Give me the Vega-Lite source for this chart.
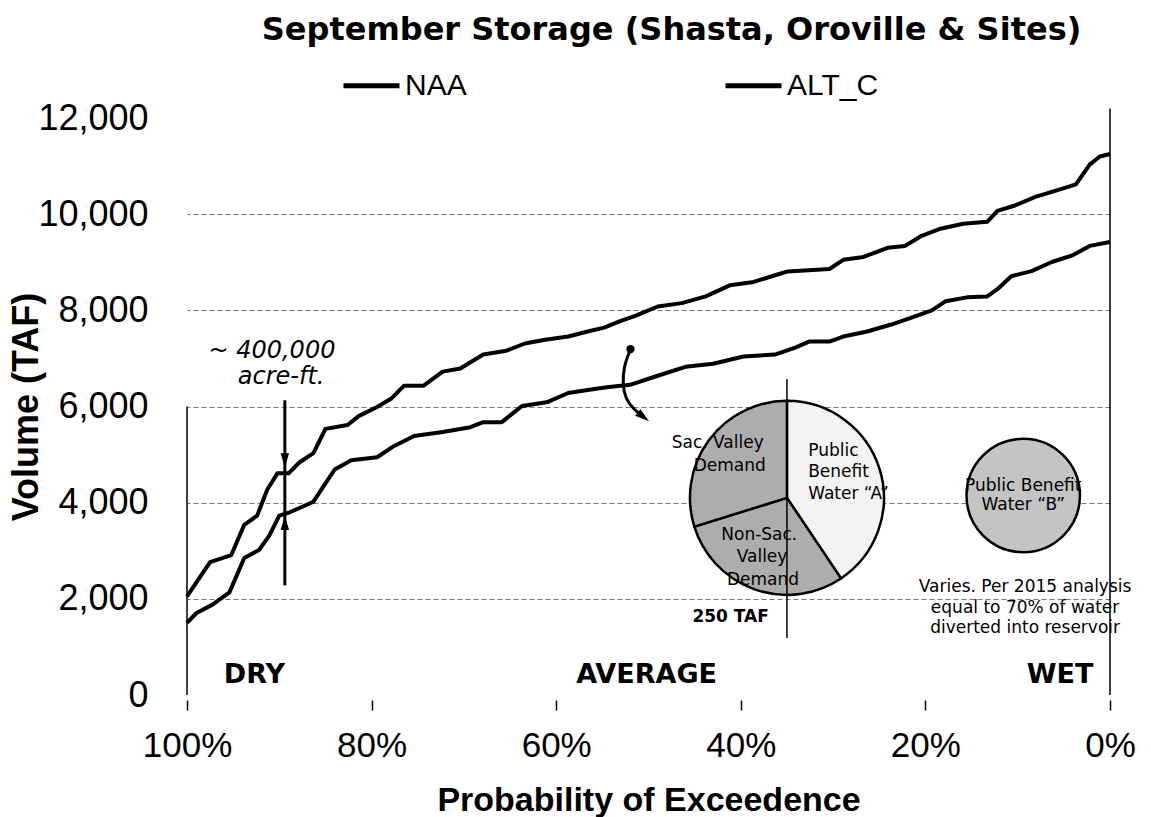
{
  "$schema": "https://vega.github.io/schema/vega-lite/v6.json",
  "width": 923,
  "height": 577,
  "autosize": "none",
  "padding": {"left": 187, "top": 118, "right": 41, "bottom": 122},
  "background": "white",
  "config": {"view": {"stroke": null}, "font": "Liberation Sans"},
  "title": {
    "text": "September Storage (Shasta, Oroville & Sites)",
    "font": "DejaVu Sans",
    "fontSize": 32,
    "fontWeight": "bold",
    "color": "black",
    "anchor": "middle",
    "dx": 23,
    "offset": -17,
    "baseline": "alphabetic"
  },
  "datasets": {
    "lines": [
      {"series": "ALT_C", "p": 100, "v": 2050}, {"series": "ALT_C", "p": 97.5, "v": 2765}, {"series": "ALT_C", "p": 95.2, "v": 2910},
      {"series": "ALT_C", "p": 93.8, "v": 3540}, {"series": "ALT_C", "p": 92.4, "v": 3730}, {"series": "ALT_C", "p": 91.3, "v": 4275},
      {"series": "ALT_C", "p": 90.2, "v": 4610}, {"series": "ALT_C", "p": 89.0, "v": 4610}, {"series": "ALT_C", "p": 87.8, "v": 4840},
      {"series": "ALT_C", "p": 86.3, "v": 5030}, {"series": "ALT_C", "p": 85.0, "v": 5535}, {"series": "ALT_C", "p": 82.6, "v": 5615},
      {"series": "ALT_C", "p": 81.4, "v": 5800}, {"series": "ALT_C", "p": 79.4, "v": 5990}, {"series": "ALT_C", "p": 77.9, "v": 6160},
      {"series": "ALT_C", "p": 76.5, "v": 6430}, {"series": "ALT_C", "p": 74.4, "v": 6430}, {"series": "ALT_C", "p": 72.3, "v": 6725},
      {"series": "ALT_C", "p": 70.4, "v": 6790}, {"series": "ALT_C", "p": 67.9, "v": 7080}, {"series": "ALT_C", "p": 65.4, "v": 7160},
      {"series": "ALT_C", "p": 63.4, "v": 7310}, {"series": "ALT_C", "p": 61.2, "v": 7390}, {"series": "ALT_C", "p": 58.7, "v": 7455},
      {"series": "ALT_C", "p": 56.6, "v": 7560}, {"series": "ALT_C", "p": 54.8, "v": 7640}, {"series": "ALT_C", "p": 53.0, "v": 7780},
      {"series": "ALT_C", "p": 51.5, "v": 7880}, {"series": "ALT_C", "p": 49.0, "v": 8080}, {"series": "ALT_C", "p": 46.4, "v": 8150},
      {"series": "ALT_C", "p": 43.8, "v": 8290}, {"series": "ALT_C", "p": 41.2, "v": 8520}, {"series": "ALT_C", "p": 38.6, "v": 8590},
      {"series": "ALT_C", "p": 36.3, "v": 8730}, {"series": "ALT_C", "p": 34.9, "v": 8810}, {"series": "ALT_C", "p": 30.4, "v": 8860},
      {"series": "ALT_C", "p": 28.9, "v": 9050}, {"series": "ALT_C", "p": 26.7, "v": 9110}, {"series": "ALT_C", "p": 24.1, "v": 9300},
      {"series": "ALT_C", "p": 22.2, "v": 9340}, {"series": "ALT_C", "p": 20.4, "v": 9550}, {"series": "ALT_C", "p": 18.5, "v": 9690},
      {"series": "ALT_C", "p": 15.9, "v": 9800}, {"series": "ALT_C", "p": 13.3, "v": 9840}, {"series": "ALT_C", "p": 12.2, "v": 10070},
      {"series": "ALT_C", "p": 10.3, "v": 10180}, {"series": "ALT_C", "p": 8.1, "v": 10360}, {"series": "ALT_C", "p": 5.5, "v": 10510},
      {"series": "ALT_C", "p": 3.7, "v": 10620}, {"series": "ALT_C", "p": 2.2, "v": 11030}, {"series": "ALT_C", "p": 1.1, "v": 11200},
      {"series": "ALT_C", "p": 0, "v": 11250},
      {"series": "NAA", "p": 100, "v": 1500}, {"series": "NAA", "p": 99.0, "v": 1700}, {"series": "NAA", "p": 97.2, "v": 1885},
      {"series": "NAA", "p": 95.4, "v": 2135}, {"series": "NAA", "p": 93.8, "v": 2850}, {"series": "NAA", "p": 92.2, "v": 3015},
      {"series": "NAA", "p": 91.1, "v": 3310}, {"series": "NAA", "p": 90.0, "v": 3730}, {"series": "NAA", "p": 89.0, "v": 3790},
      {"series": "NAA", "p": 87.5, "v": 3915}, {"series": "NAA", "p": 86.3, "v": 4020}, {"series": "NAA", "p": 85.0, "v": 4400},
      {"series": "NAA", "p": 84.0, "v": 4690}, {"series": "NAA", "p": 82.2, "v": 4880}, {"series": "NAA", "p": 79.4, "v": 4945},
      {"series": "NAA", "p": 77.6, "v": 5175}, {"series": "NAA", "p": 75.4, "v": 5385}, {"series": "NAA", "p": 72.3, "v": 5470},
      {"series": "NAA", "p": 69.3, "v": 5570}, {"series": "NAA", "p": 67.9, "v": 5675}, {"series": "NAA", "p": 65.9, "v": 5675},
      {"series": "NAA", "p": 63.7, "v": 6010}, {"series": "NAA", "p": 60.9, "v": 6095}, {"series": "NAA", "p": 58.7, "v": 6280},
      {"series": "NAA", "p": 56.6, "v": 6345}, {"series": "NAA", "p": 54.5, "v": 6400}, {"series": "NAA", "p": 52.0, "v": 6450},
      {"series": "NAA", "p": 49.0, "v": 6640}, {"series": "NAA", "p": 46.0, "v": 6825}, {"series": "NAA", "p": 43.0, "v": 6890},
      {"series": "NAA", "p": 39.7, "v": 7040}, {"series": "NAA", "p": 36.3, "v": 7080}, {"series": "NAA", "p": 34.1, "v": 7225},
      {"series": "NAA", "p": 32.6, "v": 7350}, {"series": "NAA", "p": 30.4, "v": 7350}, {"series": "NAA", "p": 28.9, "v": 7455},
      {"series": "NAA", "p": 26.3, "v": 7560}, {"series": "NAA", "p": 23.7, "v": 7705}, {"series": "NAA", "p": 21.5, "v": 7850},
      {"series": "NAA", "p": 19.3, "v": 8000}, {"series": "NAA", "p": 17.8, "v": 8190}, {"series": "NAA", "p": 15.5, "v": 8270},
      {"series": "NAA", "p": 13.3, "v": 8290}, {"series": "NAA", "p": 12.2, "v": 8440}, {"series": "NAA", "p": 10.7, "v": 8710},
      {"series": "NAA", "p": 8.5, "v": 8815}, {"series": "NAA", "p": 6.3, "v": 9005}, {"series": "NAA", "p": 4.0, "v": 9150},
      {"series": "NAA", "p": 2.2, "v": 9340}, {"series": "NAA", "p": 0, "v": 9420}
    ],
    "thinRules": [
      {"p": 100, "v": 6000, "v2": 0},
      {"p": 0, "v": 12200, "v2": 0}
    ],
    "divider": [{"p": 35, "v": 6570, "v2": 1185}],
    "arrowRule": [{"p": 89.4, "v": 6130, "v2": 2280}],
    "arrowHeads": [
      {"p": 89.4, "v": 4880, "ang": 180},
      {"p": 89.4, "v": 3580, "ang": 0},
      {"p": 50.55, "v": 5785, "ang": 128}
    ],
    "curve": [
      {"i": 1, "p": 51.95, "v": 7194},
      {"i": 2, "p": 52.7, "v": 6825},
      {"i": 3, "p": 52.8, "v": 6457},
      {"i": 4, "p": 52.5, "v": 6161},
      {"i": 5, "p": 51.6, "v": 5941},
      {"i": 6, "p": 50.6, "v": 5790}
    ],
    "dot": [{"p": 51.95, "v": 7194}],
    "pie": [
      {"slice": "Public Benefit Water A", "share": 40.6, "ord": 1, "p": 35, "v": 4100},
      {"slice": "Non-Sac. Valley Demand", "share": 29.6, "ord": 2, "p": 35, "v": 4100},
      {"slice": "Sac. Valley Demand", "share": 29.8, "ord": 3, "p": 35, "v": 4100}
    ],
    "pie2": [{"p": 9.4, "v": 4150}],
    "italicText": [
      {"p": 90.8, "v": 7160, "t": "~ 400,000"},
      {"p": 89.8, "v": 6610, "t": "acre-ft."}
    ],
    "labelCenter": [
      {"p": 42.5, "v": 5235, "t": "Sac. Valley"},
      {"p": 41.2, "v": 4765, "t": "Demand"},
      {"p": 38.0, "v": 3335, "t": "Non-Sac."},
      {"p": 37.7, "v": 2860, "t": "Valley"},
      {"p": 37.6, "v": 2390, "t": "Demand"},
      {"p": 9.4, "v": 4355, "t": "Public Benefit"},
      {"p": 9.4, "v": 3950, "t": "Water “B”"},
      {"p": 9.2, "v": 2245, "t": "Varies. Per 2015 analysis"},
      {"p": 9.2, "v": 1805, "t": "equal to 70% of water"},
      {"p": 9.2, "v": 1395, "t": "diverted into reservoir"}
    ],
    "labelLeft": [
      {"p": 32.7, "v": 5070, "t": "Public"},
      {"p": 32.7, "v": 4630, "t": "Benefit"},
      {"p": 32.7, "v": 4190, "t": "Water “A”"}
    ],
    "boldSmall": [{"p": 41.1, "v": 1630, "t": "250 TAF"}],
    "zones": [
      {"p": 92.7, "v": 420, "t": "DRY"},
      {"p": 50.2, "v": 420, "t": "AVERAGE"},
      {"p": 5.4, "v": 420, "t": "WET"}
    ]
  },
  "encoding": {
    "x": {
      "field": "p",
      "type": "quantitative",
      "scale": {"domain": [0, 100], "reverse": true, "nice": false, "zero": false},
      "axis": {
        "values": [0, 20, 40, 60, 80, 100],
        "labelExpr": "datum.value + '%'",
        "domain": false,
        "grid": false,
        "ticks": true,
        "tickSize": 10,
        "tickWidth": 1.5,
        "tickColor": "black",
        "offset": 5,
        "labelFont": "Liberation Sans",
        "labelFontSize": 35,
        "labelColor": "black",
        "labelPadding": 18,
        "labelFlush": false,
        "title": "Probability of Exceedence",
        "titleFont": "Liberation Sans",
        "titleFontSize": 34,
        "titleFontWeight": "bold",
        "titleColor": "black",
        "titlePadding": 20
      }
    },
    "y": {
      "field": "v",
      "type": "quantitative",
      "scale": {"domain": [0, 12000], "nice": false},
      "axis": {
        "values": [0, 2000, 4000, 6000, 8000, 10000, 12000],
        "format": ",d",
        "domain": false,
        "ticks": false,
        "labelPadding": 39,
        "labelFont": "Liberation Sans",
        "labelFontSize": 36,
        "labelColor": "black",
        "labelFlush": false,
        "grid": true,
        "gridColor": "#555555",
        "gridDash": [5, 3],
        "gridWidth": 1,
        "gridOpacity": {"condition": {"test": "datum.value === 0 || datum.value === 12000", "value": 0}, "value": 0.8},
        "title": "Volume (TAF)",
        "titleFont": "Liberation Sans",
        "titleFontSize": 36,
        "titleFontWeight": "bold",
        "titleColor": "black",
        "titlePadding": -8
      }
    }
  },
  "layer": [
    {
      "data": {"name": "lines"},
      "mark": {"type": "line", "strokeWidth": 4, "strokeJoin": "round"},
      "encoding": {
        "color": {
          "field": "series",
          "type": "nominal",
          "scale": {"domain": ["NAA", "ALT_C"], "range": ["black", "black"]},
          "legend": {
            "orient": "none",
            "legendX": 154,
            "legendY": -63,
            "direction": "horizontal",
            "title": null,
            "symbolType": "stroke",
            "symbolSize": 3136,
            "symbolStrokeWidth": 5,
            "symbolStrokeColor": "black",
            "labelFont": "Liberation Sans",
            "labelFontSize": 30,
            "labelColor": "black",
            "labelOffset": 3,
            "columnPadding": 248,
            "labelLimit": 300
          }
        }
      }
    },
    {
      "data": {"name": "thinRules"},
      "mark": {"type": "rule", "color": "black", "strokeWidth": 1.5},
      "encoding": {"y2": {"field": "v2"}}
    },
    {
      "data": {"name": "arrowRule"},
      "mark": {"type": "rule", "color": "black", "strokeWidth": 3},
      "encoding": {"y2": {"field": "v2"}}
    },
    {
      "data": {"name": "curve"},
      "mark": {"type": "line", "color": "black", "strokeWidth": 3, "interpolate": "basis"},
      "encoding": {"order": {"field": "i", "type": "quantitative"}}
    },
    {
      "data": {"name": "dot"},
      "mark": {"type": "point", "shape": "circle", "filled": true, "color": "black", "size": 70, "opacity": 1}
    },
    {
      "data": {"name": "arrowHeads"},
      "mark": {"type": "point", "shape": "M0,-1L0.6,1L-0.6,1Z", "filled": true, "color": "black", "size": 200, "opacity": 1},
      "encoding": {"angle": {"field": "ang", "type": "quantitative", "scale": null}}
    },
    {
      "data": {"name": "pie"},
      "mark": {"type": "arc", "outerRadius": 97, "stroke": "black", "strokeWidth": 2.5},
      "encoding": {
        "theta": {"field": "share", "type": "quantitative", "stack": true},
        "order": {"field": "ord", "type": "quantitative"},
        "fill": {"condition": {"test": "datum.ord === 1", "value": "#f3f3f3"}, "value": "#adadad"}
      }
    },
    {
      "data": {"name": "pie2"},
      "mark": {"type": "point", "shape": "circle", "filled": true, "fill": "#c4c4c4", "stroke": "black", "strokeWidth": 2.5, "size": 12868, "opacity": 1}
    },
    {
      "data": {"name": "divider"},
      "mark": {"type": "rule", "color": "black", "strokeWidth": 1.5},
      "encoding": {"y2": {"field": "v2"}}
    },
    {
      "data": {"name": "italicText"},
      "mark": {"type": "text", "font": "DejaVu Sans", "fontStyle": "italic", "fontSize": 24, "align": "center", "baseline": "middle", "color": "black"},
      "encoding": {"text": {"field": "t"}}
    },
    {
      "data": {"name": "labelCenter"},
      "mark": {"type": "text", "font": "DejaVu Sans", "fontSize": 17, "align": "center", "baseline": "middle", "color": "black"},
      "encoding": {"text": {"field": "t"}}
    },
    {
      "data": {"name": "labelLeft"},
      "mark": {"type": "text", "font": "DejaVu Sans", "fontSize": 17, "align": "left", "baseline": "middle", "color": "black"},
      "encoding": {"text": {"field": "t"}}
    },
    {
      "data": {"name": "boldSmall"},
      "mark": {"type": "text", "font": "DejaVu Sans", "fontSize": 17, "fontWeight": "bold", "align": "center", "baseline": "middle", "color": "black"},
      "encoding": {"text": {"field": "t"}}
    },
    {
      "data": {"name": "zones"},
      "mark": {"type": "text", "font": "DejaVu Sans", "fontSize": 27, "fontWeight": "bold", "align": "center", "baseline": "middle", "color": "black"},
      "encoding": {"text": {"field": "t"}}
    }
  ]
}
